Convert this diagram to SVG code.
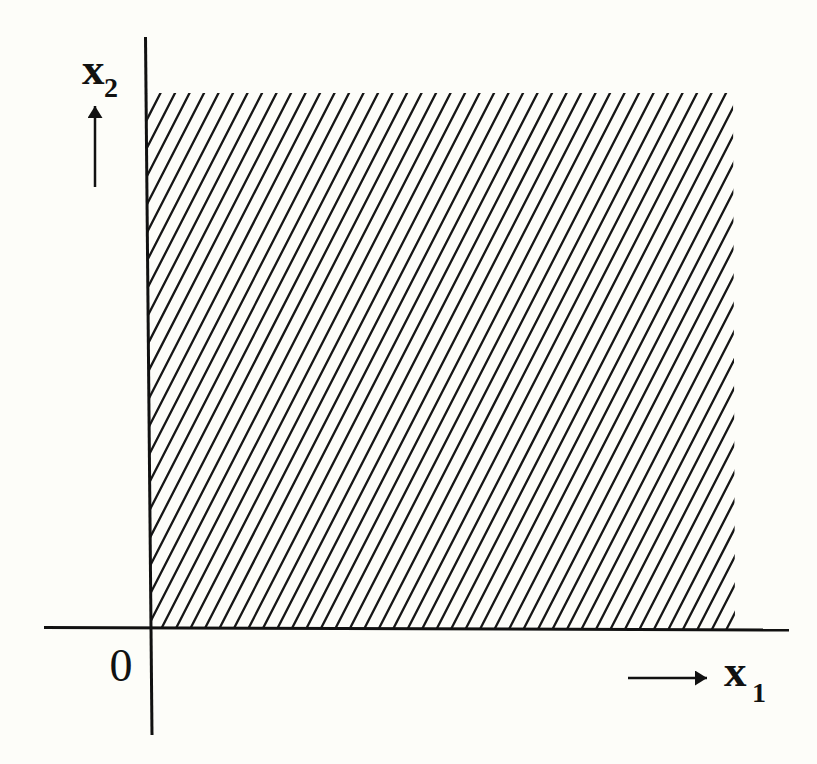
<svg xmlns="http://www.w3.org/2000/svg" width="817" height="764" viewBox="0 0 817 764">
  <style>
    .axis { stroke: #111; stroke-width: 3; fill: none; }
    .hatch { stroke: #161616; stroke-width: 2.3; fill: none; }
    .arrow { stroke: #111; stroke-width: 2.5; fill: none; }
    .lbl { font-family: "Liberation Serif", "Times New Roman", serif; fill: #111; }
    .var { font-weight: bold; font-size: 45px; }
    .sub { font-weight: bold; font-size: 28px; }
    .num { font-size: 46px; }
  </style>
  <defs>
    <marker id="head" markerUnits="userSpaceOnUse" markerWidth="13" markerHeight="15" refX="12" refY="7.5" orient="auto" viewBox="0 0 13 15">
      <path d="M0,0 L12,7.5 L0,15 Z" fill="#111"/>
    </marker>
    <clipPath id="region">
      <polygon points="147,93 733,93 735,629 151,629"/>
    </clipPath>
  </defs>
  <rect width="817" height="764" fill="#fdfdf9"/>

  <g id="hatch" clip-path="url(#region)">
    <path class="hatch" d="M-134.5,640 l287.2,-560 m-272.7,560 l287.2,-560 m-272.7,560 l287.2,-560 m-272.7,560 l287.2,-560 m-272.7,560 l287.2,-560 m-272.7,560 l287.2,-560 m-272.7,560 l287.2,-560 m-272.7,560 l287.2,-560 m-272.7,560 l287.2,-560 m-272.7,560 l287.2,-560 m-272.7,560 l287.2,-560 m-272.7,560 l287.2,-560 m-272.7,560 l287.2,-560 m-272.7,560 l287.2,-560 m-272.7,560 l287.2,-560 m-272.7,560 l287.2,-560 m-272.7,560 l287.2,-560 m-272.7,560 l287.2,-560 m-272.7,560 l287.2,-560 m-272.7,560 l287.2,-560 m-272.7,560 l287.2,-560 m-272.7,560 l287.2,-560 m-272.7,560 l287.2,-560 m-272.7,560 l287.2,-560 m-272.7,560 l287.2,-560 m-272.7,560 l287.2,-560 m-272.7,560 l287.2,-560 m-272.7,560 l287.2,-560 m-272.7,560 l287.2,-560 m-272.7,560 l287.2,-560 m-272.7,560 l287.2,-560 m-272.7,560 l287.2,-560 m-272.7,560 l287.2,-560 m-272.7,560 l287.2,-560 m-272.7,560 l287.2,-560 m-272.7,560 l287.2,-560 m-272.7,560 l287.2,-560 m-272.7,560 l287.2,-560 m-272.7,560 l287.2,-560 m-272.7,560 l287.2,-560 m-272.7,560 l287.2,-560 m-272.7,560 l287.2,-560 m-272.7,560 l287.2,-560 m-272.7,560 l287.2,-560 m-272.7,560 l287.2,-560 m-272.7,560 l287.2,-560 m-272.7,560 l287.2,-560 m-272.7,560 l287.2,-560 m-272.7,560 l287.2,-560 m-272.7,560 l287.2,-560 m-272.7,560 l287.2,-560 m-272.7,560 l287.2,-560 m-272.7,560 l287.2,-560 m-272.7,560 l287.2,-560 m-272.7,560 l287.2,-560 m-272.7,560 l287.2,-560 m-272.7,560 l287.2,-560 m-272.7,560 l287.2,-560 m-272.7,560 l287.2,-560 m-272.7,560 l287.2,-560 m-272.7,560 l287.2,-560"/>
  </g>

  <g id="axes">
    <line class="axis" x1="145.5" y1="37" x2="152" y2="735"/>
    <line class="axis" x1="44" y1="627.5" x2="789" y2="630"/>
  </g>

  <g id="direction-arrows">
    <line class="arrow" x1="95" y1="187" x2="95" y2="106" marker-end="url(#head)"/>
    <line class="arrow" x1="628" y1="678" x2="707" y2="678" marker-end="url(#head)"/>
  </g>

  <g id="labels">
    <text class="lbl var" x="82" y="84">x</text>
    <text class="lbl sub" x="104" y="97">2</text>
    <text class="lbl var" x="724" y="686">x</text>
    <text class="lbl sub" x="752" y="702">1</text>
    <text class="lbl num" x="121" y="681" text-anchor="middle">0</text>
  </g>
</svg>
